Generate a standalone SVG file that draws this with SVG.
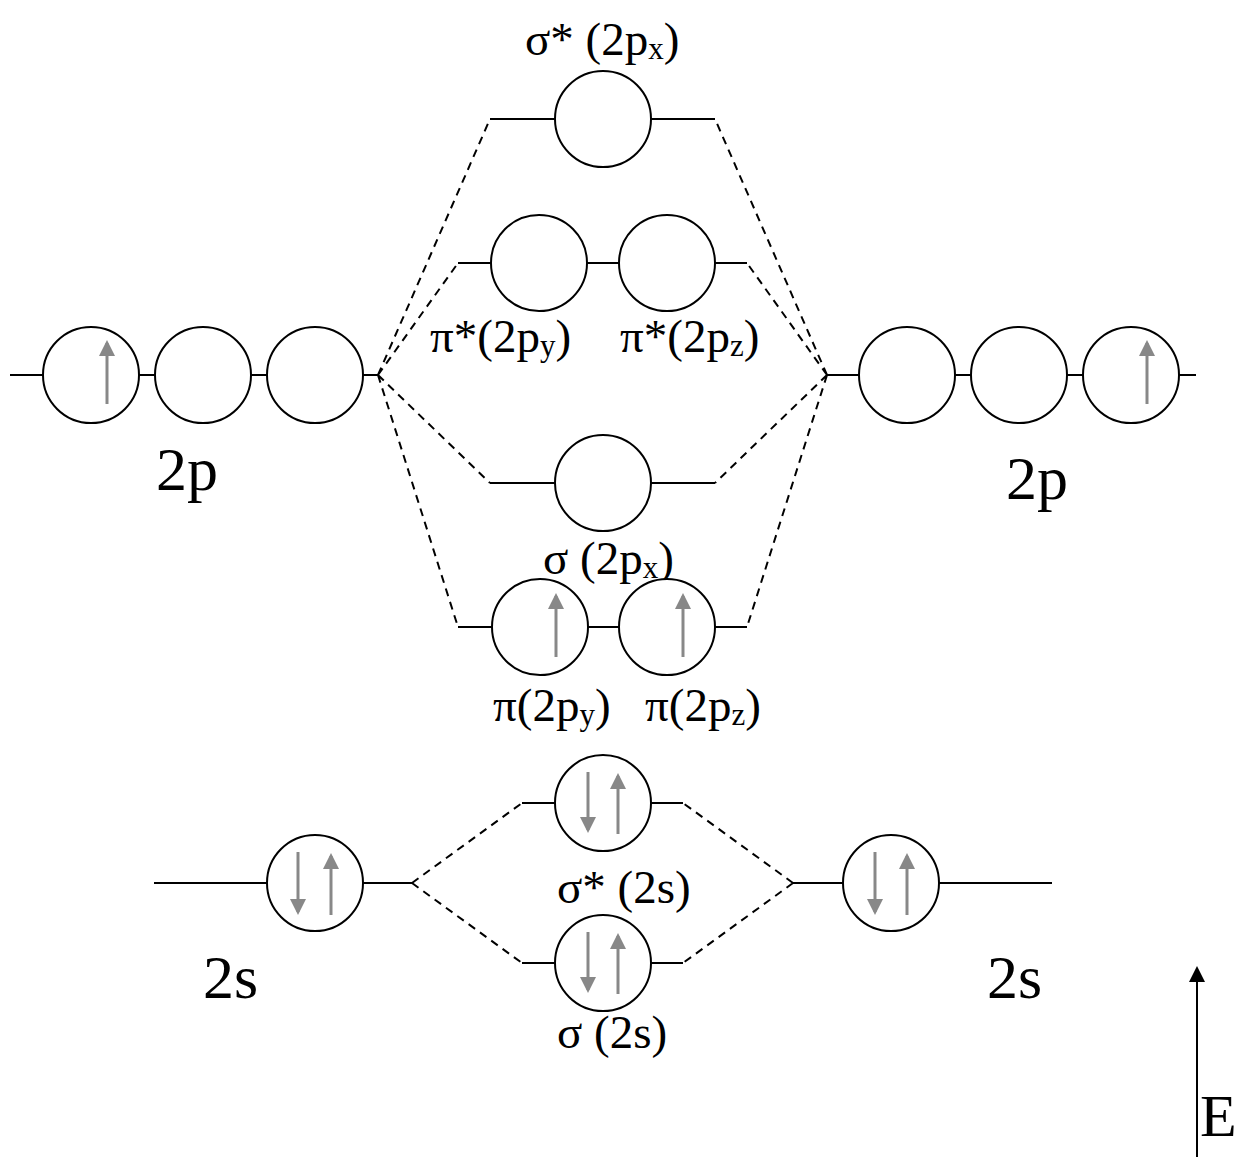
<svg xmlns="http://www.w3.org/2000/svg" width="1237" height="1157" viewBox="0 0 1237 1157">
<style>
.lvl{stroke:#000;stroke-width:2;fill:none}
.orb{stroke:#000;stroke-width:2;fill:#fff}
.dash{stroke:#000;stroke-width:2;fill:none;stroke-dasharray:8,6}
.e{stroke:#888;stroke-width:3;fill:none}
.eu{marker-end:url(#eh)}
.t{font-family:"Liberation Serif","Times New Roman",serif;fill:#000}
.m{font-size:47px}
.b{font-size:62px}
.s{font-size:31px}
</style>
<defs>
<marker id="eh" viewBox="0 0 16 16" refX="13" refY="8" markerWidth="16" markerHeight="16" markerUnits="userSpaceOnUse" orient="auto">
<path d="M0,0 L16,8 L0,16 z" fill="#888"/>
</marker>
<marker id="ah" viewBox="0 0 16 16" refX="13" refY="8" markerWidth="16" markerHeight="16" markerUnits="userSpaceOnUse" orient="auto">
<path d="M0,0 L16,8 L0,16 z" fill="#000"/>
</marker>
</defs>
<g id="connectors">
<path class="dash" d="M378,375 L490,119 M378,375 L458,263 M378,375 L490,483 M378,375 L458,627"/>
<path class="dash" d="M827,375 L715,119 M827,375 L747,263 M827,375 L715,483 M827,375 L747,627"/>
<path class="dash" d="M412,883 L522,803 M412,883 L522,963"/>
<path class="dash" d="M793,883 L683,803 M793,883 L683,963"/>
</g>
<g id="left-2p">
<line class="lvl" x1="10" y1="375" x2="378" y2="375"/>
<circle class="orb" cx="91" cy="375" r="48"/>
<circle class="orb" cx="203" cy="375" r="48"/>
<circle class="orb" cx="315" cy="375" r="48"/>
<line class="e eu" x1="107" y1="404" x2="107" y2="343"/>
<text class="t b" x="156" y="490">2p</text>
</g>
<g id="right-2p">
<line class="lvl" x1="827" y1="375" x2="1196" y2="375"/>
<circle class="orb" cx="907" cy="375" r="48"/>
<circle class="orb" cx="1019" cy="375" r="48"/>
<circle class="orb" cx="1131" cy="375" r="48"/>
<line class="e eu" x1="1147" y1="404" x2="1147" y2="343"/>
<text class="t b" x="1006" y="499">2p</text>
</g>
<g id="sigma-star-2px">
<line class="lvl" x1="490" y1="119" x2="715" y2="119"/>
<circle class="orb" cx="603" cy="119" r="48"/>
<text class="t m" x="525" y="55">σ* (2p<tspan class="s" dy="4">x</tspan><tspan dy="-4">)</tspan></text>
</g>
<g id="pi-star-2p">
<line class="lvl" x1="458" y1="263" x2="747" y2="263"/>
<circle class="orb" cx="539" cy="263" r="48"/>
<circle class="orb" cx="667" cy="263" r="48"/>
<text class="t m" x="430" y="352">π*(2p<tspan class="s" dy="4">y</tspan><tspan dy="-4">)</tspan></text>
<text class="t m" x="620" y="352">π*(2p<tspan class="s" dy="4">z</tspan><tspan dy="-4">)</tspan></text>
</g>
<g id="sigma-2px">
<line class="lvl" x1="490" y1="483" x2="715" y2="483"/>
<circle class="orb" cx="603" cy="483" r="48"/>
<text class="t m" x="543" y="574">σ (2p<tspan class="s" dy="4">x</tspan><tspan dy="-4">)</tspan></text>
</g>
<g id="pi-2p">
<line class="lvl" x1="458" y1="627" x2="747" y2="627"/>
<circle class="orb" cx="540" cy="627" r="48"/>
<circle class="orb" cx="667" cy="627" r="48"/>
<line class="e eu" x1="556" y1="657" x2="556" y2="596"/>
<line class="e eu" x1="683" y1="657" x2="683" y2="596"/>
<text class="t m" x="493" y="721">π(2p<tspan class="s" dy="4">y</tspan><tspan dy="-4">)</tspan></text>
<text class="t m" x="645" y="721">π(2p<tspan class="s" dy="4">z</tspan><tspan dy="-4">)</tspan></text>
</g>
<g id="left-2s">
<line class="lvl" x1="154" y1="883" x2="412" y2="883"/>
<circle class="orb" cx="315" cy="883" r="48"/>
<line class="e eu" x1="298" y1="852" x2="298" y2="912"/>
<line class="e eu" x1="331" y1="915" x2="331" y2="856"/>
<text class="t b" x="203" y="998">2s</text>
</g>
<g id="right-2s">
<line class="lvl" x1="793" y1="883" x2="1052" y2="883"/>
<circle class="orb" cx="891" cy="883" r="48"/>
<line class="e eu" x1="875" y1="852" x2="875" y2="912"/>
<line class="e eu" x1="907" y1="915" x2="907" y2="856"/>
<text class="t b" x="987" y="998">2s</text>
</g>
<g id="sigma-star-2s">
<line class="lvl" x1="522" y1="803" x2="683" y2="803"/>
<circle class="orb" cx="603" cy="803" r="48"/>
<line class="e eu" x1="588" y1="772" x2="588" y2="830"/>
<line class="e eu" x1="618" y1="834" x2="618" y2="776"/>
<text class="t m" x="557" y="903">σ* (2s)</text>
</g>
<g id="sigma-2s">
<line class="lvl" x1="522" y1="963" x2="683" y2="963"/>
<circle class="orb" cx="603" cy="963" r="48"/>
<line class="e eu" x1="588" y1="932" x2="588" y2="990"/>
<line class="e eu" x1="618" y1="994" x2="618" y2="936"/>
<text class="t m" x="557" y="1048">σ (2s)</text>
</g>
<g id="energy-axis">
<line x1="1197" y1="1157" x2="1197" y2="969" stroke="#000" stroke-width="2" marker-end="url(#ah)"/>
<text class="t" x="1200" y="1136" font-size="60">E</text>
</g>
</svg>
